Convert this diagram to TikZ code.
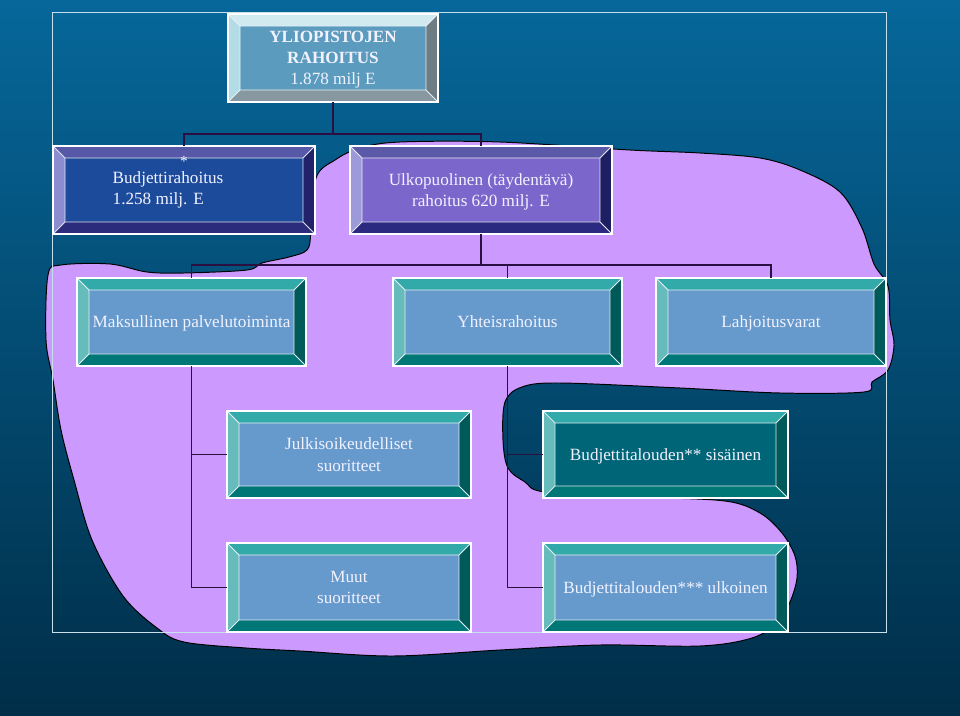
\documentclass[tikz,border=0pt]{standalone}
\usepackage{fontspec}
\setmainfont{Liberation Serif}
\usetikzlibrary{positioning}

\definecolor{bgtop}{HTML}{06679A}
\definecolor{bgbot}{HTML}{002E48}
\definecolor{blob}{HTML}{CC99FF}
\definecolor{linecol}{HTML}{2A1040}
\definecolor{txt}{HTML}{F2F2FF}
\definecolor{frame}{HTML}{C8E0EC}
% box colours: fill, top, left, right, bottom
\definecolor{mainF}{HTML}{5A9BBE}\definecolor{mainT}{HTML}{D0EAF0}
\definecolor{mainL}{HTML}{B4DCE6}\definecolor{mainR}{HTML}{6E7C84}
\definecolor{mainB}{HTML}{8898A0}
\definecolor{budF}{HTML}{1D4B9B}\definecolor{budT}{HTML}{5858A8}
\definecolor{budL}{HTML}{8C8CD0}\definecolor{budR}{HTML}{22226A}
\definecolor{budB}{HTML}{2C2C7C}
\definecolor{ulkF}{HTML}{7B66CC}\definecolor{ulkT}{HTML}{5A5AA8}
\definecolor{ulkL}{HTML}{9C9AD8}\definecolor{ulkR}{HTML}{1E1E62}
\definecolor{ulkB}{HTML}{2A2A80}
\definecolor{tealF}{HTML}{6699CC}\definecolor{tealT}{HTML}{33AAAA}
\definecolor{tealL}{HTML}{66BBBB}\definecolor{tealR}{HTML}{005A5A}
\definecolor{tealB}{HTML}{007777}
\definecolor{darkF}{HTML}{006677}

\newcommand\bw{0.3cm}

\tikzset{
  bevelbox/.style n args={5}{draw=white, line width=0.8pt, fill=#1,
    inner sep=2pt, outer sep=0pt, text=txt, align=center, text depth=0pt,
    font=\fontsize{12.2pt}{15pt}\selectfont,
    path picture={
      \coordinate (@nw) at (path picture bounding box.north west);
      \coordinate (@ne) at (path picture bounding box.north east);
      \coordinate (@sw) at (path picture bounding box.south west);
      \coordinate (@se) at (path picture bounding box.south east);
      \fill[#2] (@nw) -- (@ne) -- ([xshift=-\bw,yshift=-\bw]@ne) -- ([xshift=\bw,yshift=-\bw]@nw) -- cycle;
      \fill[#3] (@nw) -- ([xshift=\bw,yshift=-\bw]@nw) -- ([xshift=\bw,yshift=\bw]@sw) -- (@sw) -- cycle;
      \fill[#4] (@ne) -- ([xshift=-\bw,yshift=-\bw]@ne) -- ([xshift=-\bw,yshift=\bw]@se) -- (@se) -- cycle;
      \fill[#5] (@sw) -- (@se) -- ([xshift=-\bw,yshift=\bw]@se) -- ([xshift=\bw,yshift=\bw]@sw) -- cycle;
      \draw[white!85!#1, line width=0.6pt]
        ([xshift=\bw,yshift=-\bw]@nw) rectangle ([xshift=-\bw,yshift=\bw]@se)
        (@nw) -- ([xshift=\bw,yshift=-\bw]@nw) (@ne) -- ([xshift=-\bw,yshift=-\bw]@ne)
        (@sw) -- ([xshift=\bw,yshift=\bw]@sw) (@se) -- ([xshift=-\bw,yshift=\bw]@se);
    }},
  size/.style 2 args={minimum width=#1*0.025cm, minimum height=#2*0.025cm},
  mainbox/.style={bevelbox={mainF}{mainT}{mainL}{mainR}{mainB}},
  budbox/.style={bevelbox={budF}{budT}{budL}{budR}{budB}},
  ulkbox/.style={bevelbox={ulkF}{ulkT}{ulkL}{ulkR}{ulkB}},
  tealbox/.style={bevelbox={tealF}{tealT}{tealL}{tealR}{tealB}},
  darkbox/.style={bevelbox={darkF}{tealT}{tealL}{tealR}{tealB}},
  conn/.style={draw=linecol, line width=0.9pt}
}

\begin{document}
\begin{tikzpicture}[x=0.025cm,y=-0.025cm]
  \useasboundingbox (0,0) rectangle (960,716);
  % background
  \shade[top color=bgtop, bottom color=bgbot] (0,0) rectangle (960,716);
  % purple area
  \draw[black, line width=0.7pt, fill=blob] plot[smooth cycle, tension=0.55] coordinates {
    (316,178) (335,160) (360,148) (400,142) (500,142) (630,150) (700,153) (760,158)
    (800,170) (840,192) (862,228) (874,264) (888,286) (890,320) (894,345) (888,370)
    (872,382) (864,392) (780,393) (680,388) (560,383) (522,387) (505,402) (503,440)
    (508,468) (525,482) (545,492) (640,497) (725,501) (760,513) (782,533) (795,556)
    (797,578) (790,602) (778,622) (752,638) (700,646) (600,645) (500,650) (393,656)
    (300,651) (246,648) (184,642) (157,628) (123,596) (92,540) (74,480) (61,430)
    (53,380) (46,340) (48,275) (61,265) (110,264) (147,272) (184,273) (247,270)
    (262,263) (289,257) (307,250) (311,232)};
  % frame
  \draw[frame, line width=0.6pt] (52,12) rectangle (886,632);

  % boxes
  \node[mainbox, size={210}{88}] (yli) at (333,58)
    {\textbf{YLIOPISTOJEN}\\\textbf{RAHOITUS}\\1.878 milj E};
  \node[budbox, size={262}{88}, text depth=] (bud) at (184,190)
    {\hspace*{-0.8cm}\begin{tabular}{@{}l@{}}Budjettirahoitus\\1.258 milj. E\end{tabular}};
  \node[text=txt, inner sep=0pt, font=\fontsize{11pt}{13pt}\selectfont] (star) at ([yshift=-0.38cm]bud.north) {*};
  \node[ulkbox, size={262}{88}, right=0.875cm of bud] (ulk)
    {Ulkopuolinen (täydentävä)\\rahoitus 620 milj. E};

  \node[tealbox, size={229}{88}] (mak) at (191.5,322) {Maksullinen palvelutoiminta};
  \node[tealbox, size={229}{88}, right=2.175cm of mak] (yht) {Yhteisrahoitus};
  \node[tealbox, size={230}{88}, right=0.85cm of yht] (lah) {Lahjoitusvarat};

  \node[tealbox, size={244}{87}] (jul) at (349,454.5) {Julkisoikeudelliset\\suoritteet};
  \node[darkbox, size={245}{87}, right=1.8cm of jul] (bsis) {Budjettitalouden** sisäinen};
  \node[tealbox, size={244}{89}] (muu) at (349,587.5) {Muut\\suoritteet};
  \node[tealbox, size={245}{89}, right=1.8cm of muu] (bulk) {Budjettitalouden*** ulkoinen};

  % connectors
  \draw[conn] (yli.south) -- ++(0,32) coordinate (j1) -| (bud.north);
  \draw[conn] (j1) -| (ulk.north);
  \draw[conn] (ulk.south) -- ++(0,31) coordinate (j2) -| (mak.north);
  \draw[conn] (j2) -| (yht.north);
  \draw[conn] (j2) -| (lah.north);
  \draw[conn] (mak.south) |- (jul.west);
  \draw[conn] (mak.south) |- (muu.west);
  \draw[conn] (yht.south) |- (bsis.west);
  \draw[conn] (yht.south) |- (bulk.west);
\end{tikzpicture}
\end{document}
